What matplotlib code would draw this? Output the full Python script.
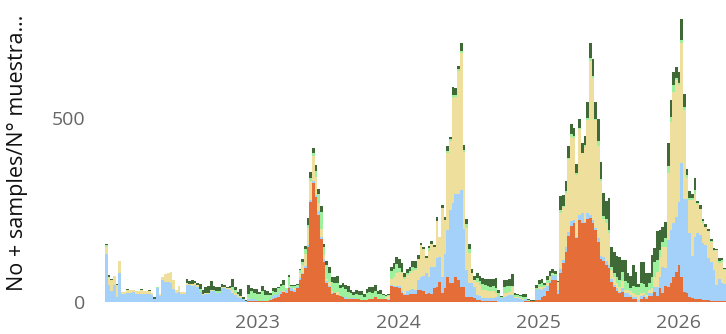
# ==========================================================
# WEEKLY POSITIVE SAMPLES - STACKED BARS
# ==========================================================

import numpy as np
import pandas as pd

import matplotlib
matplotlib.use("Agg")
import matplotlib.pyplot as plt

# ==========================================================
# DATA (weekly counts)
# ==========================================================

START_WEEK = "2021-11-29"

orange = [
    0, 0, 0, 0, 0, 0, 0, 0, 0, 0, 0, 0, 0, 0, 0, 0, 0, 0, 0, 0,
    0, 0, 0, 0, 0, 0, 0, 0, 0, 0, 0, 0, 0, 0, 0, 0, 0, 0, 0, 0,
    0, 0, 0, 0, 0, 0, 0, 0, 0, 0, 0, 0, 0, 2, 3, 3, 2, 2, 2, 2,
    3, 4, 8, 11, 14, 20, 26, 23, 37, 29, 27, 36, 59, 74, 92, 149, 272, 322, 284, 235,
    170, 108, 50, 40, 22, 23, 18, 16, 13, 8, 8, 6, 6, 8, 6, 5, 5, 5, 6, 8,
    12, 6, 8, 8, 6, 5, 42, 40, 40, 37, 25, 18, 18, 20, 22, 22, 33, 32, 30, 22,
    23, 22, 37, 41, 54, 23, 37, 66, 50, 50, 68, 59, 41, 41, 14, 14, 14, 10, 5, 5,
    3, 3, 2, 2, 2, 2, 0, 0, 0, 0, 0, 0, 0, 0, 0, 0, 2, 1, 1, 1,
    4, 5, 13, 16, 30, 50, 58, 58, 22, 77, 104, 136, 178, 207, 213, 174, 222, 213, 213, 224,
    228, 215, 195, 162, 116, 110, 100, 91, 54, 41, 30, 23, 27, 14, 12, 12, 6, 6, 0, 6,
    12, 8, 15, 15, 27, 15, 36, 23, 43, 41, 52, 68, 82, 100, 68, 27, 23, 14, 9, 6,
    6, 6, 5, 5, 4, 3, 3, 3, 3, 3, 3,
]

light_blue = [
    131, 45, 29, 45, 13, 79, 22, 22, 24, 24, 26, 22, 20, 22, 20, 20, 20, 18, 8, 36,
    16, 59, 54, 54, 52, 34, 24, 26, 22, 22, 45, 45, 42, 45, 40, 26, 18, 22, 22, 28,
    28, 25, 25, 36, 36, 35, 32, 23, 17, 14, 11, 6, 3, 5, 3, 3, 2, 0, 2, 0,
    0, 4, 8, 8, 8, 8, 0, 8, 3, 8, 5, 4, 5, 5, 5, 5, 5, 5, 6, 11,
    5, 9, 6, 3, 3, 2, 0, 0, 0, 4, 0, 4, 3, 0, 0, 0, 0, 0, 0, 0,
    0, 2, 0, 0, 0, 3, 3, 3, 3, 5, 4, 3, 10, 12, 12, 10, 26, 36, 40, 55,
    45, 71, 56, 77, 68, 45, 94, 129, 200, 217, 226, 235, 262, 156, 72, 36, 36, 30, 13, 10,
    8, 8, 8, 8, 8, 10, 15, 10, 13, 15, 18, 18, 10, 10, 8, 5, 5, 1, 0, 0,
    27, 30, 20, 20, 12, 7, 14, 13, 9, 13, 9, 14, 12, 13, 9, 3, 14, 27, 4, 16,
    8, 8, 5, 12, 9, 12, 10, 9, 7, 5, 6, 4, 10, 9, 11, 7, 6, 6, 5, 9,
    7, 6, 8, 9, 14, 26, 32, 72, 48, 128, 143, 145, 149, 170, 308, 253, 257, 172, 114, 171,
    180, 175, 154, 149, 114, 105, 83, 42, 60, 47, 45,
]

khaki = [
    19, 22, 30, 24, 32, 31, 5, 5, 9, 7, 7, 8, 8, 9, 9, 8, 10, 7, 0, 0,
    4, 7, 21, 25, 30, 25, 9, 16, 5, 5, 6, 3, 5, 5, 5, 0, 4, 3, 3, 3,
    0, 0, 0, 5, 3, 3, 4, 8, 6, 5, 5, 0, 0, 3, 0, 0, 0, 0, 0, 0,
    0, 0, 0, 0, 0, 0, 4, 0, 4, 0, 5, 0, 15, 20, 32, 45, 50, 70, 50, 23,
    23, 10, 5, 10, 5, 0, 9, 0, 0, 0, 0, 0, 0, 0, 0, 0, 0, 0, 0, 0,
    0, 0, 0, 0, 6, 7, 17, 25, 35, 40, 50, 40, 45, 45, 50, 55, 58, 85, 73, 43,
    71, 65, 56, 102, 53, 187, 91, 208, 188, 287, 262, 333, 372, 209, 113, 83, 27, 18, 36, 30,
    22, 20, 20, 18, 18, 12, 0, 0, 11, 8, 8, 22, 3, 3, 3, 2, 0, 0, 0, 0,
    0, 5, 7, 4, 9, 9, 3, 0, 22, 152, 145, 145, 198, 229, 222, 167, 234, 163, 204, 254,
    419, 385, 293, 249, 202, 102, 103, 86, 25, 22, 14, 14, 18, 9, 9, 9, 11, 6, 13, 8,
    6, 5, 9, 12, 27, 41, 54, 55, 59, 180, 294, 358, 372, 320, 328, 240, 55, 91, 154, 115,
    80, 72, 54, 50, 74, 55, 52, 95, 42, 59, 38,
]

light_green = [
    3, 0, 1, 0, 0, 0, 0, 0, 0, 0, 0, 0, 0, 0, 0, 0, 0, 0, 0, 4,
    0, 0, 0, 0, 0, 0, 0, 0, 0, 0, 0, 0, 0, 0, 0, 8, 0, 0, 0, 2,
    3, 5, 4, 0, 0, 0, 0, 10, 8, 3, 0, 0, 0, 12, 22, 18, 18, 18, 25, 15,
    15, 9, 14, 8, 14, 14, 15, 5, 24, 6, 5, 6, 7, 10, 15, 10, 8, 8, 14, 23,
    46, 23, 38, 24, 23, 27, 23, 20, 27, 22, 19, 13, 10, 14, 12, 12, 9, 18, 20, 17,
    18, 12, 14, 10, 3, 2, 22, 21, 25, 10, 3, 5, 5, 6, 10, 5, 0, 0, 0, 0,
    6, 0, 0, 0, 0, 0, 0, 7, 3, 7, 5, 6, 7, 5, 13, 9, 0, 2, 10, 12,
    14, 15, 12, 12, 14, 12, 9, 2, 16, 20, 18, 4, 5, 4, 5, 6, 5, 2, 2, 2,
    7, 9, 12, 6, 7, 5, 4, 3, 1, 7, 3, 5, 2, 7, 6, 5, 3, 2, 5, 4,
    7, 6, 4, 13, 6, 9, 11, 9, 9, 9, 18, 18, 27, 23, 20, 9, 19, 23, 23, 27,
    23, 22, 18, 32, 41, 31, 18, 11, 22, 19, 14, 18, 5, 5, 7, 9, 9, 4, 4, 11,
    2, 0, 7, 0, 0, 2, 2, 0, 5, 3, 2,
]

dark_green = [
    4, 5, 2, 0, 2, 0, 0, 0, 2, 0, 0, 0, 0, 3, 0, 0, 3, 0, 4, 0,
    0, 0, 0, 0, 0, 0, 0, 0, 0, 0, 11, 7, 12, 5, 5, 14, 11, 15, 18, 22,
    12, 11, 12, 6, 6, 3, 6, 21, 10, 5, 18, 6, 2, 23, 10, 10, 12, 7, 14, 16,
    11, 8, 8, 11, 4, 7, 13, 2, 5, 2, 3, 2, 3, 7, 7, 18, 17, 14, 17, 15,
    15, 8, 11, 18, 14, 15, 19, 10, 10, 12, 15, 8, 8, 9, 11, 12, 8, 12, 14, 15,
    16, 9, 9, 2, 3, 3, 10, 15, 18, 25, 23, 11, 12, 11, 16, 18, 9, 7, 7, 4,
    6, 7, 4, 11, 0, 7, 9, 12, 8, 23, 21, 7, 20, 15, 13, 15, 13, 10, 13, 13,
    18, 17, 20, 22, 20, 28, 7, 3, 18, 17, 18, 30, 7, 4, 2, 7, 8, 2, 1, 2,
    7, 9, 11, 6, 12, 12, 10, 10, 3, 38, 29, 27, 33, 27, 21, 25, 24, 25, 24, 46,
    40, 46, 47, 61, 47, 63, 50, 87, 54, 59, 56, 63, 31, 58, 25, 34, 58, 41, 7, 57,
    59, 37, 28, 59, 36, 79, 54, 43, 45, 64, 45, 36, 31, 30, 57, 35, 16, 21, 11, 32,
    6, 9, 6, 7, 6, 5, 5, 3, 8, 6, 3,
]

SERIES = [
    (orange, "#E56E38"),
    (light_blue, "#A4D1FA"),
    (khaki, "#EEDF9C"),
    (light_green, "#9DF09E"),
    (dark_green, "#3F6A38"),
]

YEAR_TICKS = ["2023-01-01", "2024-01-01", "2025-01-01", "2026-01-01"]
YEAR_LABELS = ["2023", "2024", "2025", "2026"]

Y_TICKS = [0, 500]

Y_LABEL = "No + samples/N° muestra…"

# ==========================================================
# PLOT
# ==========================================================

def main():

    plt.rcParams["font.family"] = ["Open Sans", "DejaVu Sans"]

    weeks = pd.date_range(START_WEEK, periods=len(orange), freq="7D")

    fig = plt.figure(figsize=(7.26, 3.34), dpi=100)

    ax = fig.add_axes([0.1446, 0.0967, 0.8554, 0.9033])

    bottom = np.zeros(len(weeks))

    for values, color in SERIES:

        values = np.array(values, dtype=float)

        ax.bar(
            weeks,
            values,
            width=7,
            bottom=bottom,
            align="edge",
            color=color,
            linewidth=0,
            antialiased=False,
        )

        bottom += values

    ax.set_xlim(weeks[0], weeks[-1] + pd.Timedelta(days=7))
    ax.set_ylim(0, 820)

    ax.set_xticks(pd.to_datetime(YEAR_TICKS))
    ax.set_xticklabels(YEAR_LABELS)

    ax.set_yticks(Y_TICKS)
    ax.set_yticklabels([str(v) for v in Y_TICKS])

    ax.tick_params(
        axis="both",
        length=0,
        colors="#666666",
        labelsize=14,
    )
    ax.tick_params(axis="x", pad=9)
    ax.tick_params(axis="y", pad=14)

    for side in ["top", "right", "bottom", "left"]:
        ax.spines[side].set_visible(False)

    # y label placed in figure coords so it stays inside the canvas
    fig.text(
        0.0235,
        0.542,
        Y_LABEL,
        rotation=90,
        ha="center",
        va="center",
        fontsize=15.5,
        color="#111111",
    )

    fig.savefig("out.png", dpi=100)

    plt.close(fig)


if __name__ == "__main__":

    main()
